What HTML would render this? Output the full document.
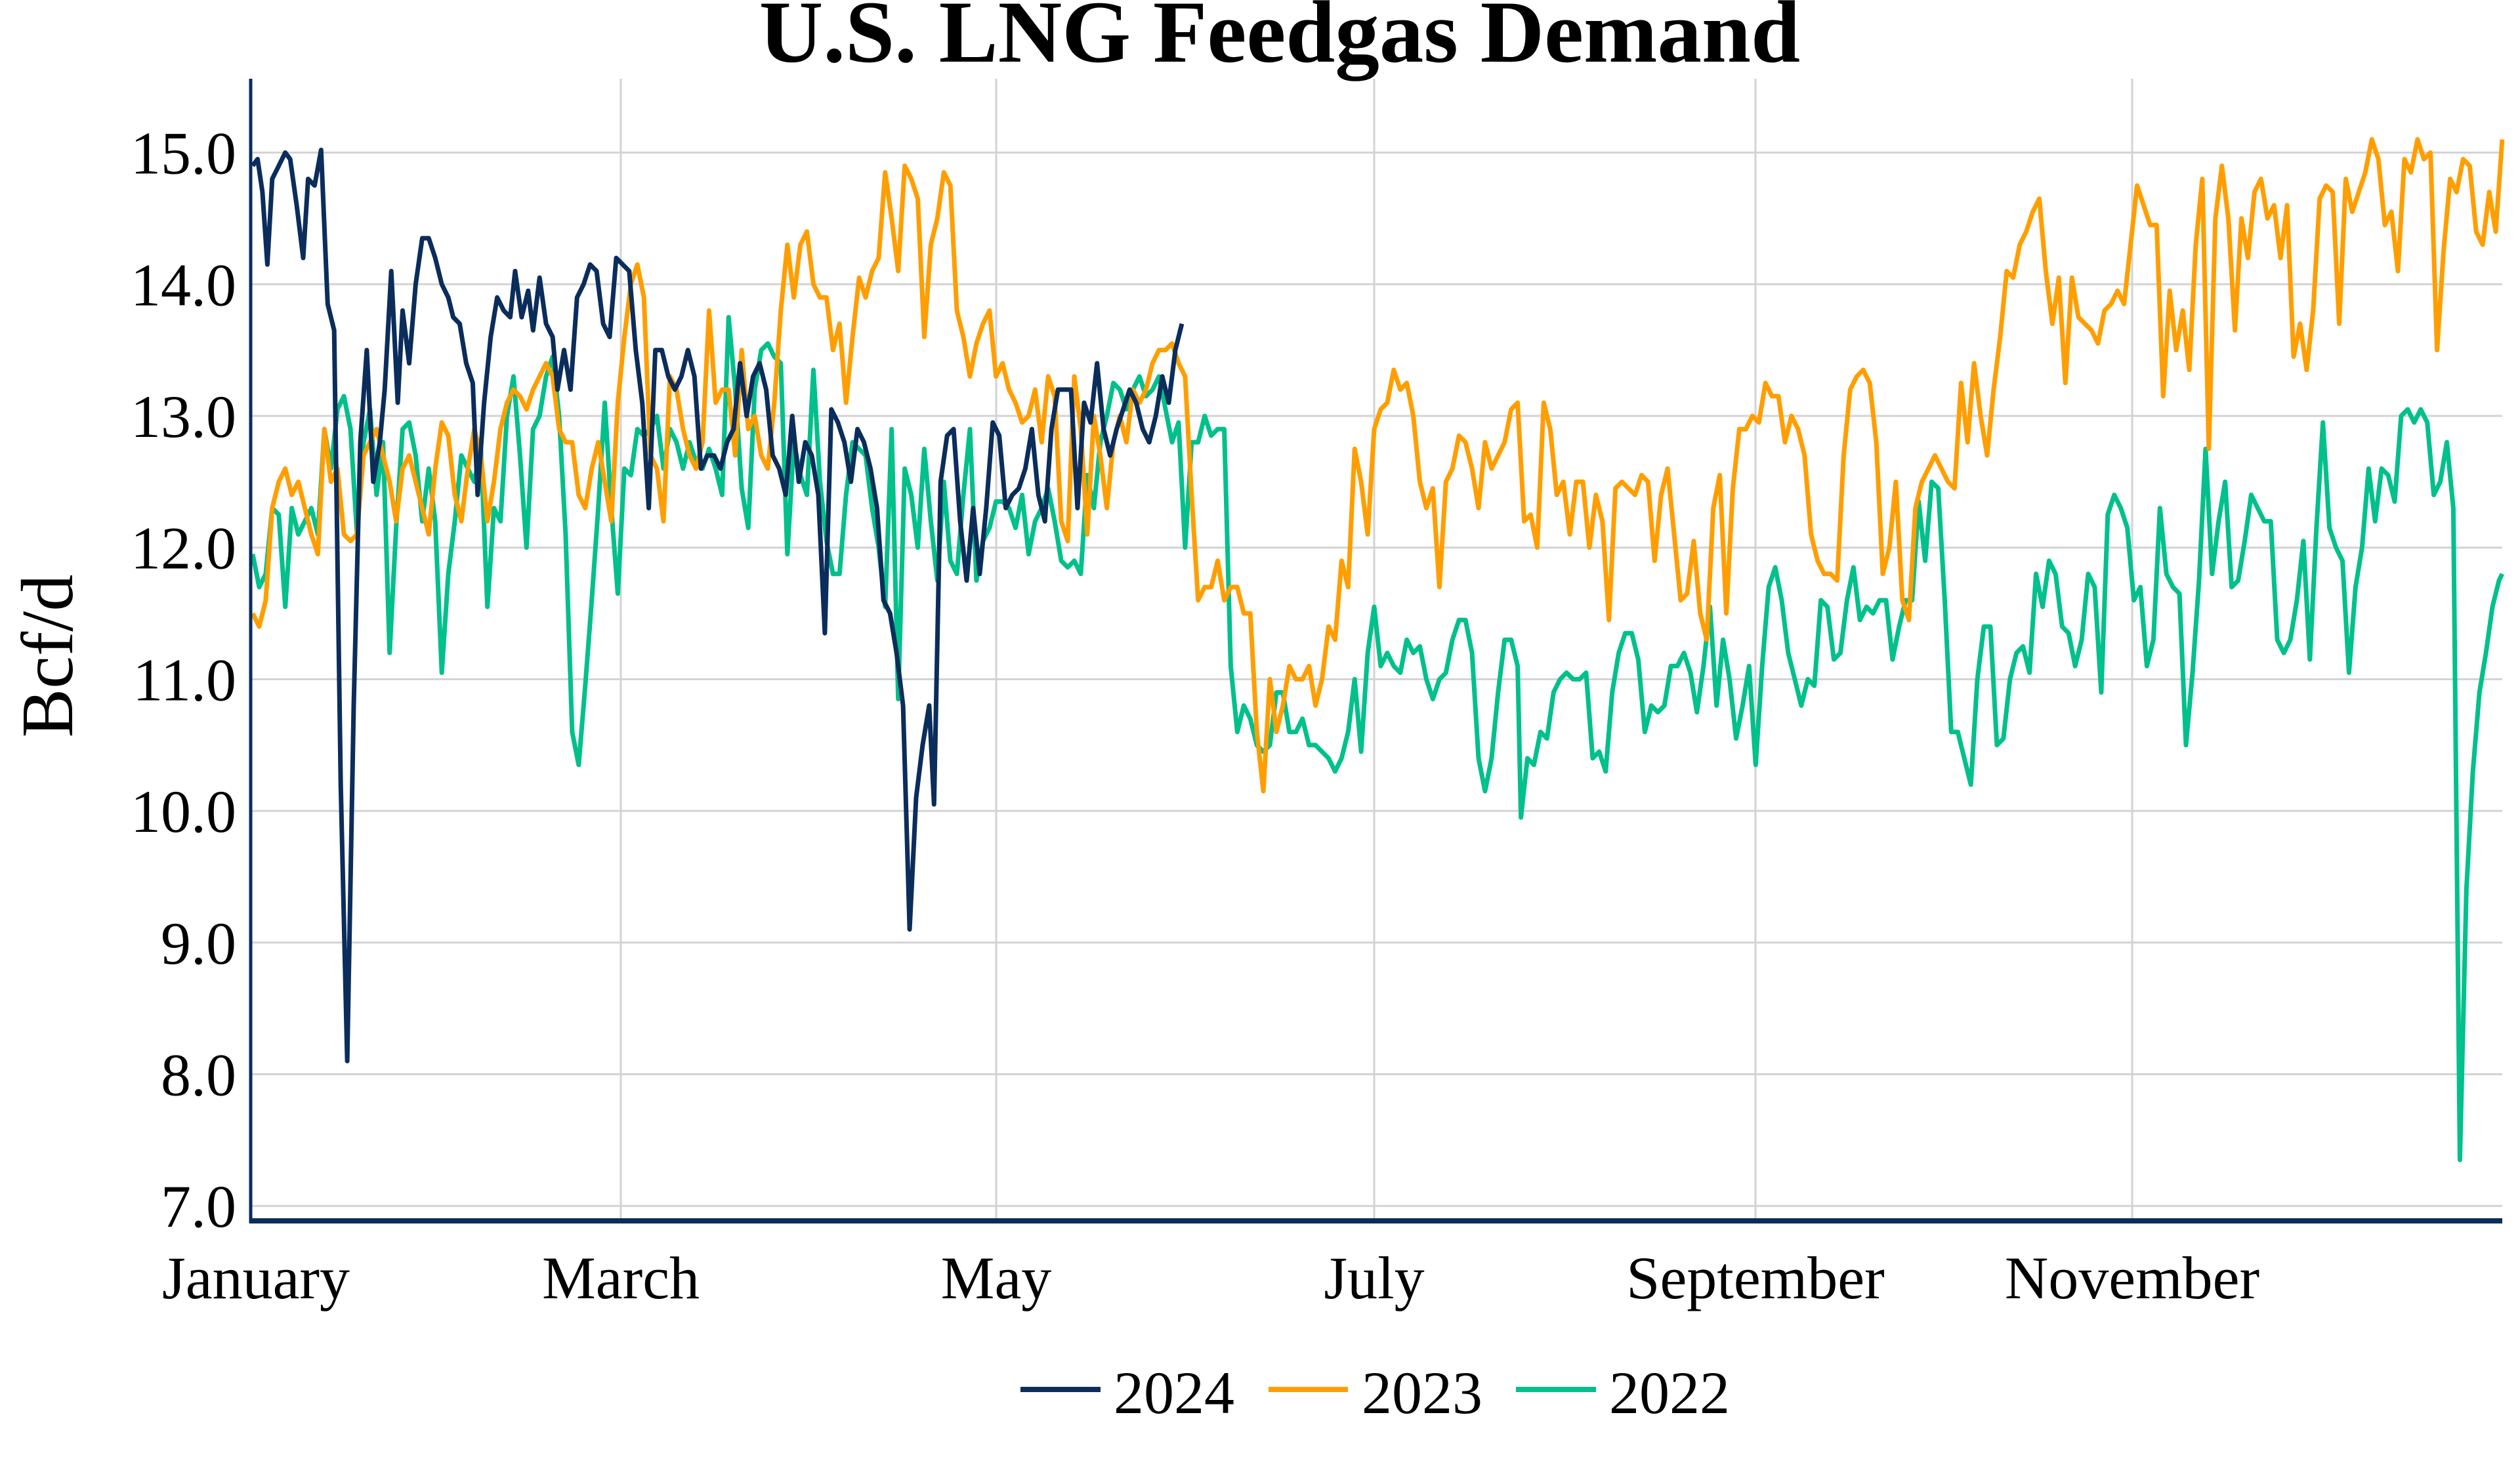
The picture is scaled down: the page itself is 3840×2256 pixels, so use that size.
<!DOCTYPE html>
<html><head><meta charset="utf-8"><style>
html,body{margin:0;padding:0;background:#fff;}
svg{display:block;}
text{font-family:"Liberation Serif",serif;fill:#000;}
</style></head><body>
<svg id="s" width="3840" height="2256" viewBox="0 0 3840 2256" xmlns="http://www.w3.org/2000/svg">
<rect width="3840" height="2256" fill="#fff"/>
<text x="1950" y="94" font-size="135" font-weight="bold" text-anchor="middle">U.S. LNG Feedgas Demand</text>
<g id="grid" stroke="#d3d3d3" stroke-width="3"></g>
<g id="ylab" font-size="92" text-anchor="end"></g>
<g font-size="92" text-anchor="middle">
<text x="390" y="1979">January</text>
<text x="946" y="1979">March</text>
<text x="1518" y="1979">May</text>
<text x="2094" y="1979">July</text>
<text x="2675" y="1979">September</text>
<text x="3249" y="1979">November</text>
</g>
<text transform="translate(110,1000) rotate(-90)" font-size="112" text-anchor="middle">Bcf/d</text>
<g id="lines" fill="none" stroke-width="7" stroke-linejoin="round"></g>
<line x1="382" y1="120" x2="382" y2="1864" stroke="#0b2d5c" stroke-width="5"/>
<line x1="380" y1="1861" x2="3813" y2="1861" stroke="#0b2d5c" stroke-width="8"/>
<line x1="1555" y1="2118" x2="1677" y2="2118" stroke="#0b2d5c" stroke-width="8"/>
<line x1="1933" y1="2118" x2="2054" y2="2118" stroke="#ff9e00" stroke-width="8"/>
<line x1="2310" y1="2118" x2="2432" y2="2118" stroke="#00c08b" stroke-width="8"/>
<g font-size="92"><text x="1697" y="2154">2024</text><text x="2075" y="2154">2023</text><text x="2452" y="2154">2022</text></g>
</svg>
<script>
var NS="http://www.w3.org/2000/svg";
function Y(v){return 232.6+(15-v)*200.7;}
var g=document.getElementById('grid'),yl=document.getElementById('ylab');
[946,1518,2094,2675,3249].forEach(function(x){var l=document.createElementNS(NS,'line');l.setAttribute('x1',x);l.setAttribute('x2',x);l.setAttribute('y1',120);l.setAttribute('y2',1858);g.appendChild(l);});
for(var v=7;v<=15;v++){var l=document.createElementNS(NS,'line');l.setAttribute('x1',384);l.setAttribute('x2',3813);l.setAttribute('y1',Y(v));l.setAttribute('y2',Y(v));g.appendChild(l);
var t=document.createElementNS(NS,'text');t.setAttribute('x',360);t.setAttribute('y',Y(v)+32);t.textContent=v.toFixed(1);yl.appendChild(t);}
var d24=[155,14.9,158,14.95,161,14.7,164,14.15,167,14.8,171,14.9,175,15.0,178,14.95,182,14.6,186,14.2,189,14.8,193,14.75,197,15.02,201,13.85,205,13.65,209,10.2,213,8.1,217,10.8,221,12.8,225,13.5,229,12.5,233,12.8,236,13.2,240,14.1,244,13.1,247,13.8,251,13.4,255,14.0,259,14.35,263,14.35,267,14.2,271,14.0,275,13.9,278,13.75,282,13.7,286,13.4,290,13.25,293,12.4,297,13.1,301,13.6,305,13.9,309,13.8,313,13.75,316,14.1,320,13.75,324,13.95,327,13.65,331,14.05,335,13.7,339,13.6,342,13.2,346,13.5,350,13.2,354,13.9,358,14.0,362,14.15,366,14.1,370,13.7,374,13.6,378,14.2,382,14.15,386,14.1,390,13.5,394,13.1,398,12.3,402,13.5,406,13.5,410,13.3,414,13.2,418,13.3,422,13.5,426,13.3,430,12.6,434,12.7,438,12.7,442,12.6,446,12.8,450,12.9,454,13.4,458,13.0,462,13.3,466,13.4,470,13.2,474,12.7,478,12.6,482,12.4,486,13.0,490,12.5,494,12.8,498,12.7,502,12.4,506,11.35,510,13.05,514,12.95,518,12.8,522,12.5,526,12.9,530,12.8,534,12.6,538,12.3,542,11.6,546,11.5,550,11.2,554,10.8,558,9.1,562,10.1,566,10.5,570,10.8,573,10.05,577,12.5,581,12.85,585,12.9,589,12.2,593,11.75,597,12.3,601,11.8,605,12.3,609,12.95,613,12.85,617,12.3,621,12.4,625,12.45,629,12.6,633,12.9,637,12.4,641,12.2,645,12.9,649,13.2,653,13.2,657,13.2,661,12.3,665,13.1,669,12.95,673,13.4,677,12.9,681,12.7,685,12.9,689,13.05,693,13.2,697,13.1,701,12.9,705,12.8,709,13.0,713,13.3,717,13.1,721,13.5,725,13.7];
var d23=[155,11.5,159,11.4,163,11.6,167,12.3,171,12.5,175,12.6,179,12.4,183,12.5,187,12.3,191,12.1,195,11.95,199,12.9,203,12.5,207,12.6,211,12.1,215,12.05,219,12.1,223,12.7,227,12.8,231,12.9,235,12.7,239,12.5,243,12.2,247,12.6,251,12.7,255,12.5,259,12.3,263,12.1,267,12.6,271,12.95,275,12.85,279,12.4,283,12.2,287,12.6,291,12.9,295,12.7,299,12.2,303,12.5,307,12.9,311,13.1,315,13.2,319,13.15,323,13.05,327,13.2,331,13.3,335,13.4,339,13.3,343,12.9,347,12.8,351,12.8,355,12.4,359,12.3,363,12.6,367,12.8,371,12.5,375,12.2,379,13.1,383,13.6,387,14.0,391,14.15,395,13.9,399,12.7,403,12.6,407,12.2,411,13.3,415,13.2,419,12.9,423,12.7,427,12.6,431,12.8,435,13.8,439,13.1,443,13.2,447,13.2,451,12.7,455,13.5,459,12.9,463,13.0,467,12.7,471,12.6,475,13.1,479,13.8,483,14.3,487,13.9,491,14.3,495,14.4,499,14.0,503,13.9,507,13.9,511,13.5,515,13.7,519,13.1,523,13.6,527,14.05,531,13.9,535,14.1,539,14.2,543,14.85,547,14.5,551,14.1,555,14.9,559,14.8,563,14.65,567,13.6,571,14.3,575,14.5,579,14.85,583,14.75,587,13.8,591,13.6,595,13.3,599,13.55,603,13.7,607,13.8,611,13.3,615,13.4,619,13.2,623,13.1,627,12.95,631,13.0,635,13.2,639,12.8,643,13.3,647,13.15,651,12.2,655,12.05,659,13.3,663,12.9,667,12.1,671,13.0,675,12.7,679,12.3,683,12.8,687,13.0,691,12.8,695,13.2,699,13.1,703,13.2,707,13.4,711,13.5,715,13.5,719,13.55,723,13.4,727,13.3,731,12.4,735,11.6,739,11.7,743,11.7,747,11.9,751,11.6,755,11.7,759,11.7,763,11.5,767,11.5,771,10.6,775,10.15,779,11.0,783,10.6,787,10.8,791,11.1,795,11.0,799,11.0,803,11.1,807,10.8,811,11.0,815,11.4,819,11.3,823,11.9,827,11.7,831,12.75,835,12.5,839,12.1,843,12.9,847,13.05,851,13.1,855,13.35,859,13.2,863,13.25,867,13.0,871,12.5,875,12.3,879,12.45,883,11.7,887,12.5,891,12.6,895,12.85,899,12.8,903,12.6,907,12.3,911,12.8,915,12.6,919,12.7,923,12.8,927,13.05,931,13.1,935,12.2,939,12.25,943,12.0,947,13.1,951,12.9,955,12.4,959,12.5,963,12.1,967,12.5,971,12.5,975,12.0,979,12.4,983,12.2,987,11.45,991,12.45,995,12.5,999,12.45,1003,12.4,1007,12.55,1011,12.5,1015,11.9,1019,12.4,1023,12.6,1027,12.1,1031,11.6,1035,11.65,1039,12.05,1043,11.5,1047,11.3,1051,12.3,1055,12.55,1059,11.5,1063,12.45,1067,12.9,1071,12.9,1075,13.0,1079,12.95,1083,13.25,1087,13.15,1091,13.15,1095,12.8,1099,13.0,1103,12.9,1107,12.7,1111,12.1,1115,11.9,1119,11.8,1123,11.8,1127,11.75,1131,12.7,1135,13.2,1139,13.3,1143,13.35,1147,13.25,1151,12.8,1155,11.8,1159,12.0,1163,12.5,1167,11.6,1171,11.45,1175,12.3,1179,12.5,1183,12.6,1187,12.7,1191,12.6,1195,12.5,1199,12.45,1203,13.25,1207,12.8,1211,13.4,1215,13.0,1219,12.7,1223,13.2,1227,13.6,1231,14.1,1235,14.05,1239,14.3,1243,14.4,1247,14.55,1251,14.65,1255,14.1,1259,13.7,1263,14.05,1267,13.25,1271,14.05,1275,13.75,1279,13.7,1283,13.65,1287,13.55,1291,13.8,1295,13.85,1299,13.95,1303,13.85,1307,14.3,1311,14.75,1315,14.6,1319,14.45,1323,14.45,1327,13.15,1331,13.95,1335,13.5,1339,13.8,1343,13.35,1347,14.3,1351,14.8,1355,12.75,1359,14.5,1363,14.9,1367,14.5,1371,13.65,1375,14.5,1379,14.2,1383,14.7,1387,14.8,1391,14.5,1395,14.6,1399,14.2,1403,14.6,1407,13.45,1411,13.7,1415,13.35,1419,13.8,1423,14.65,1427,14.75,1431,14.7,1435,13.7,1439,14.8,1443,14.55,1447,14.7,1451,14.85,1455,15.1,1459,14.95,1463,14.45,1467,14.55,1471,14.1,1475,14.95,1479,14.85,1483,15.1,1487,14.95,1491,15.0,1495,13.5,1499,14.25,1503,14.8,1507,14.7,1511,14.95,1515,14.9,1519,14.4,1523,14.3,1527,14.7,1531,14.4,1535,15.1];
var d22=[155,11.95,159,11.7,163,11.8,167,12.3,171,12.25,175,11.55,179,12.3,183,12.1,187,12.2,191,12.3,195,12.1,199,12.9,203,12.6,207,13.05,211,13.15,215,12.9,219,12.1,223,12.8,227,13.05,231,12.4,235,12.8,239,11.2,243,12.15,247,12.9,251,12.95,255,12.7,259,12.2,263,12.6,267,12.2,271,11.05,275,11.8,279,12.2,283,12.7,287,12.6,291,12.5,295,12.75,299,11.55,303,12.3,307,12.2,311,13.0,315,13.3,319,12.7,323,12.0,327,12.9,331,13.0,335,13.3,339,13.45,343,13.0,347,12.1,351,10.6,355,10.35,359,10.95,363,11.6,367,12.3,371,13.1,375,12.3,379,11.65,383,12.6,387,12.55,391,12.9,395,12.85,399,12.9,403,13.0,407,12.6,411,12.9,415,12.8,419,12.6,423,12.8,427,12.65,431,12.6,435,12.75,439,12.6,443,12.4,447,13.75,451,13.2,455,12.45,459,12.15,463,13.2,467,13.5,471,13.55,475,13.45,479,13.4,483,11.95,487,12.8,491,12.55,495,12.4,499,13.35,503,12.5,507,12.05,511,11.8,515,11.8,519,12.4,523,12.8,527,12.75,531,12.7,535,12.3,539,12.0,543,11.55,547,12.9,551,10.85,555,12.6,559,12.4,563,12.0,567,12.75,571,12.2,575,11.75,579,12.5,583,11.9,587,11.8,591,12.4,595,12.9,599,11.75,603,12.05,607,12.15,611,12.35,615,12.35,619,12.3,623,12.15,627,12.4,631,11.95,635,12.2,639,12.3,643,12.45,647,12.2,651,11.9,655,11.85,659,11.9,663,11.8,667,12.55,671,12.3,675,12.8,679,13.0,683,13.25,687,13.2,691,13.05,695,13.2,699,13.3,703,13.15,707,13.2,711,13.3,715,13.05,719,12.8,723,12.95,727,12.0,731,12.8,735,12.8,739,13.0,743,12.85,747,12.9,751,12.9,755,11.1,759,10.6,763,10.8,767,10.7,771,10.5,775,10.45,779,10.5,783,10.9,787,10.9,791,10.6,795,10.6,799,10.7,803,10.5,807,10.5,811,10.45,815,10.4,819,10.3,823,10.4,827,10.6,831,11.0,835,10.45,839,11.2,843,11.55,847,11.1,851,11.2,855,11.1,859,11.05,863,11.3,867,11.2,871,11.25,875,11.0,879,10.85,883,11.0,887,11.05,891,11.3,895,11.45,899,11.45,903,11.2,907,10.4,911,10.15,915,10.4,919,10.9,923,11.3,927,11.3,931,11.1,933,9.95,937,10.4,941,10.35,945,10.6,949,10.55,953,10.9,957,11.0,961,11.05,965,11.0,969,11.0,973,11.05,977,10.4,981,10.45,985,10.3,989,10.9,993,11.2,997,11.35,1001,11.35,1005,11.15,1009,10.6,1013,10.8,1017,10.75,1021,10.8,1025,11.1,1029,11.1,1033,11.2,1037,11.05,1041,10.75,1045,11.1,1049,11.55,1053,10.8,1057,11.3,1061,11.0,1065,10.55,1069,10.8,1073,11.1,1077,10.35,1081,11.1,1085,11.7,1089,11.85,1093,11.6,1097,11.2,1101,11.0,1105,10.8,1109,11.0,1113,10.95,1117,11.6,1121,11.55,1125,11.15,1129,11.2,1133,11.6,1137,11.85,1141,11.45,1145,11.55,1149,11.5,1153,11.6,1157,11.6,1161,11.15,1165,11.4,1169,11.6,1173,11.6,1177,12.35,1181,11.9,1185,12.5,1189,12.45,1193,11.6,1197,10.6,1201,10.6,1205,10.4,1209,10.2,1213,11.0,1217,11.4,1221,11.4,1225,10.5,1229,10.55,1233,11.0,1237,11.2,1241,11.25,1245,11.05,1249,11.8,1253,11.55,1257,11.9,1261,11.8,1265,11.4,1269,11.35,1273,11.1,1277,11.3,1281,11.8,1285,11.7,1289,10.9,1293,12.25,1297,12.4,1301,12.3,1305,12.15,1309,11.6,1313,11.7,1317,11.1,1321,11.3,1325,12.3,1329,11.8,1333,11.7,1337,11.65,1341,10.5,1345,11.05,1349,11.75,1353,12.75,1357,11.8,1361,12.2,1365,12.5,1369,11.7,1373,11.75,1377,12.05,1381,12.4,1385,12.3,1389,12.2,1393,12.2,1397,11.3,1401,11.2,1405,11.3,1409,11.6,1413,12.05,1417,11.15,1421,12.15,1425,12.95,1429,12.15,1433,12.0,1437,11.9,1441,11.05,1445,11.7,1449,12.0,1453,12.6,1457,12.2,1461,12.6,1465,12.55,1469,12.35,1473,13.0,1477,13.05,1481,12.95,1485,13.05,1489,12.95,1493,12.4,1497,12.5,1501,12.8,1505,12.3,1509,7.35,1513,9.4,1517,10.3,1521,10.9,1525,11.2,1529,11.55,1533,11.75,1535,11.8];
var L=document.getElementById('lines');
[[d22,'#00c08b'],[d23,'#ff9e00'],[d24,'#0b2d5c']].forEach(function(s){
var d=s[0],p=[];for(var i=0;i<d.length;i+=2){var x=Math.max(383,d[i]*2.484);p.push(x.toFixed(1)+','+Y(d[i+1]).toFixed(1));}
var pl=document.createElementNS(NS,'polyline');pl.setAttribute('points',p.join(' '));pl.setAttribute('stroke',s[1]);L.appendChild(pl);});
</script>
</body></html>
